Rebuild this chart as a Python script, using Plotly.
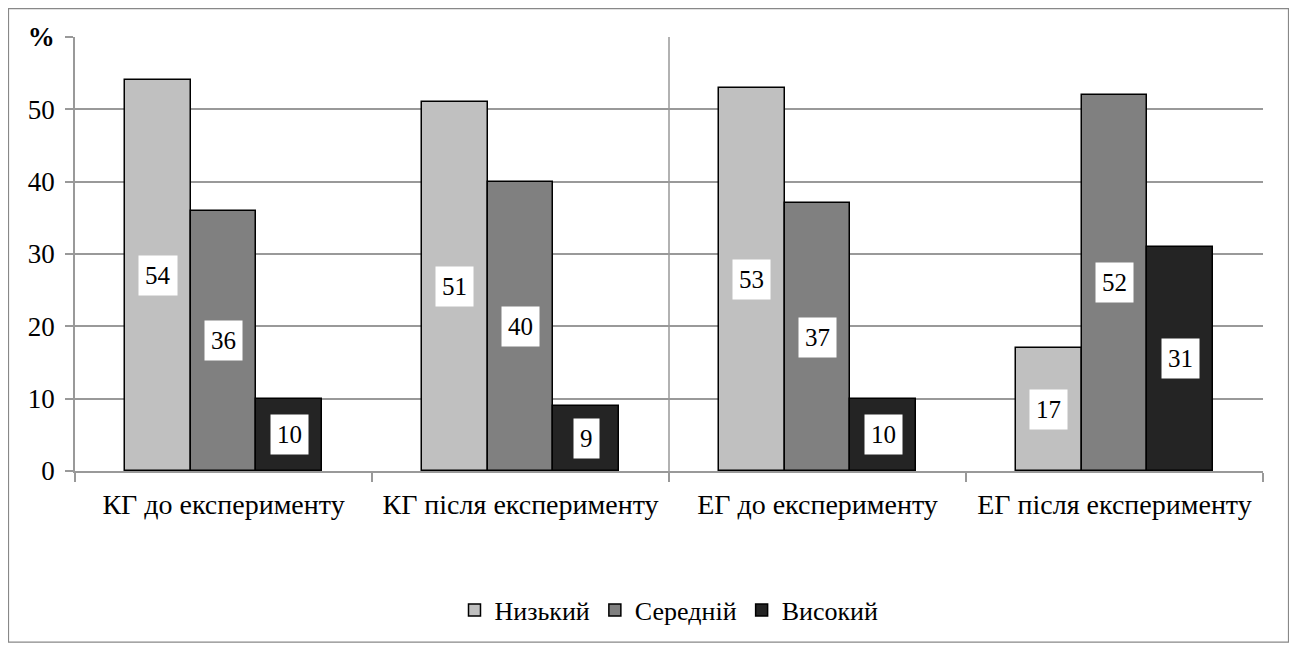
import plotly.graph_objects as go

categories = ["КГ до експерименту", "КГ після експерименту", "ЕГ до експерименту", "ЕГ після експерименту"]
series_names = ["Низький", "Середній", "Високий"]
low = [54, 51, 53, 17]
mid = [36, 40, 37, 52]
high = [10, 9, 10, 31]
y_tick_vals = [0, 10, 20, 30, 40, 50, 60]
y_tick_text = ["0", "10", "20", "30", "40", "50", "<b>%</b>"]

colors = ["#C0C0C0", "#808080", "#242424"]
series = [low, mid, high]
bar_w = 0.222
offsets = [-bar_w, 0.0, bar_w]
FONT = "Times New Roman, Liberation Serif, Tinos, DejaVu Serif, serif"

# page has an 8px body margin, so the figure is placed at (8, 8)
W, H = 1281, 636
L, R, T, B = 67, 26, 29, 172
pw, ph = W - L - R, H - T - B

fig = go.Figure()
xs = list(range(len(categories)))
for name, vals, col, off in zip(series_names, series, colors, offsets):
    fig.add_trace(go.Bar(
        x=[x + off for x in xs], y=vals, name=name, width=bar_w,
        marker=dict(color=col, line=dict(color="black", width=1.5)),
    ))
    for x, v in zip(xs, vals):
        fig.add_annotation(x=x + off, y=v / 2, text=str(v), showarrow=False,
                           xref="x", yref="y", bgcolor="white", borderpad=6,
                           font=dict(family=FONT, size=25, color="black"))

fig.add_shape(type="line", xref="x", yref="paper", x0=1.5, x1=1.5, y0=0, y1=1,
              line=dict(color="#999999", width=1.5), layer="below")
fig.add_shape(type="rect", xref="paper", yref="paper",
              x0=(0.5 - L) / pw, x1=(W - 0.5 - L) / pw,
              y0=(H - B - (H - 0.5)) / ph, y1=(H - B - 0.5) / ph,
              line=dict(color="#888888", width=1.2))

fig.update_layout(
    width=W, height=H, margin=dict(l=L, r=R, t=T, b=B),
    paper_bgcolor="white", plot_bgcolor="white",
    barmode="overlay", bargap=0,
    font=dict(family=FONT, size=26, color="black"),
    showlegend=True,
    legend=dict(orientation="h", x=0.5, xanchor="center", y=(H - B - 602) / ph, yanchor="middle",
                font=dict(family=FONT, size=26, color="black"), itemwidth=30, traceorder="normal"),
    xaxis=dict(range=[-0.5, 3.5], tickvals=xs, ticktext=categories, ticks="",
               tickfont=dict(family=FONT, size=28, color="black"),
               showgrid=False, showline=True, linecolor="#999999", linewidth=1.5,
               zeroline=False, ticklabelstandoff=8,
               minor=dict(tickvals=[-0.5, 0.5, 1.5, 2.5, 3.5], ticks="outside", ticklen=9,
                          tickcolor="#999999", tickwidth=1.5, showgrid=False)),
    yaxis=dict(range=[0, 60], tickvals=y_tick_vals, ticktext=y_tick_text, ticks="outside",
               tickfont=dict(family=FONT, size=27, color="black"),
               ticklen=8, tickcolor="#999999", tickwidth=1.5,
               showgrid=True, gridcolor="#999999", gridwidth=1.5,
               showline=True, linecolor="#999999", linewidth=1.5, zeroline=False,
               ticklabelstandoff=5),
)

fig.write_html("out.html")
